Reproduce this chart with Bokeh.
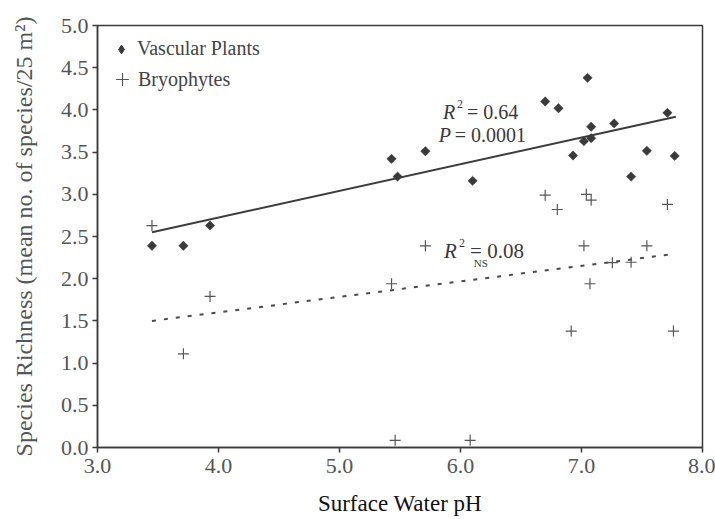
import numpy as np
from bokeh.plotting import figure
from bokeh.models import (Range1d, FixedTicker, PrintfTickFormatter, Legend, LegendItem,
                          Label, ColumnDataSource)
from bokeh.embed import file_html
from bokeh.resources import INLINE

# ---- data ----
ph_vascular = [3.45, 3.71, 3.93, 5.43, 5.48, 5.71, 6.10, 6.70, 6.81, 6.93,
               7.05, 7.02, 7.08, 7.08, 7.27, 7.41, 7.54, 7.71, 7.77]
rich_vascular = [2.39, 2.39, 2.63, 3.42, 3.21, 3.51, 3.16, 4.10, 4.02, 3.46,
                 4.38, 3.63, 3.80, 3.665, 3.84, 3.21, 3.515, 3.965, 3.455]

ph_bryo = [3.45, 3.71, 3.93, 5.43, 5.46, 5.71, 6.08, 6.70, 6.80, 6.915,
           7.02, 7.04, 7.08, 7.07, 7.255, 7.41, 7.54, 7.71, 7.76]
rich_bryo = [2.63, 1.11, 1.79, 1.94, 0.085, 2.39, 0.085, 2.99, 2.82, 1.38,
             2.39, 3.00, 2.93, 1.94, 2.19, 2.195, 2.39, 2.88, 1.38]

fit_vascular_x = [3.45, 7.78]
fit_vascular_y = [2.55, 3.92]
fit_bryo_x = [3.45, 7.75]
fit_bryo_y = [1.50, 2.29]

x_ticks = [3.0, 4.0, 5.0, 6.0, 7.0, 8.0]
y_ticks = [0.0, 0.5, 1.0, 1.5, 2.0, 2.5, 3.0, 3.5, 4.0, 4.5, 5.0]

FONT = "Liberation Serif"
AX = "#3a3a3a"

p = figure(width=715, height=519, output_backend="svg", toolbar_location=None,
           x_range=Range1d(3, 8), y_range=Range1d(0, 5),
           min_border_left=97, min_border_right=13, min_border_top=25,
           min_border_bottom=72,
           x_axis_label="Surface Water pH",
           y_axis_label="Species Richness (mean no. of species/25 m\u00b2)")

p.xgrid.visible = False
p.ygrid.visible = False
p.outline_line_color = AX
p.outline_line_width = 1.5
p.background_fill_color = "white"
p.border_fill_color = "white"

for ax in (p.xaxis[0], p.yaxis[0]):
    ax.axis_line_color = AX
    ax.axis_line_width = 1.5
    ax.major_tick_line_color = AX
    ax.major_tick_line_width = 1.5
    ax.major_tick_out = 5
    ax.major_tick_in = 0
    ax.minor_tick_out = 0
    ax.minor_tick_in = 0
    ax.major_label_text_font = FONT
    ax.major_label_text_font_size = "22px"
    ax.major_label_text_color = "#555555"
    ax.axis_label_text_font = FONT
    ax.axis_label_text_font_style = "normal"
    ax.formatter = PrintfTickFormatter(format="%.1f")

p.xaxis[0].ticker = FixedTicker(ticks=x_ticks)
p.yaxis[0].ticker = FixedTicker(ticks=y_ticks)
p.xaxis[0].major_label_standoff = 6
p.xaxis[0].axis_label_text_font_size = "23px"
p.xaxis[0].axis_label_text_color = "#111111"
p.xaxis[0].axis_label_standoff = 15
p.yaxis[0].major_label_standoff = 4
p.yaxis[0].axis_label_text_font_size = "24px"
p.yaxis[0].axis_label_text_color = "#555555"
p.yaxis[0].axis_label_standoff = 21

# regression lines
p.line(fit_vascular_x, fit_vascular_y, line_color="#3c3c3c", line_width=2)
p.line(fit_bryo_x, fit_bryo_y, line_color="#4a4a4a", line_width=2, line_dash="4 8")

# points
src_v = ColumnDataSource(dict(x=ph_vascular, y=rich_vascular))
r_v = p.scatter("x", "y", source=src_v, marker="square", angle=np.pi / 4,
                size=6.6, fill_color="#3a3a3a", line_color="#3a3a3a", line_width=0.5)
r_b = p.scatter(ph_bryo, rich_bryo, marker="cross", size=11,
                line_color="#555555", line_width=1.2)
# legend key for the diamond symbol: hidden renderer used only by the legend
r_v_key = p.scatter("x", "y", source=src_v, marker="diamond",
                    fill_color="#3a3a3a", line_color="#3a3a3a", line_width=1.0,
                    visible=False)

# legends
leg1 = Legend(items=[LegendItem(label="Vascular Plants", renderers=[r_v_key])],
              location=(13, 387), margin=0, padding=0, spacing=0,
              glyph_width=22, glyph_height=22, label_standoff=5,
              label_text_font=FONT, label_text_font_size="20px",
              label_text_color="#444444", border_line_color=None,
              background_fill_alpha=0, inactive_fill_alpha=0)
leg2 = Legend(items=[LegendItem(label="Bryophytes", renderers=[r_b])],
              location=(9, 352), margin=0, padding=0, spacing=0,
              glyph_width=32, glyph_height=32, label_standoff=-4,
              label_text_font=FONT, label_text_font_size="20px",
              label_text_color="#444444", border_line_color=None,
              background_fill_alpha=0)
p.add_layout(leg1, "center")
p.add_layout(leg2, "center")

# annotations
def lab(x, y, text, dx=0, dy=0, size="20px", style="normal"):
    p.add_layout(Label(x=x, y=y, x_offset=dx, y_offset=dy, text=text,
                       text_font=FONT, text_font_size=size,
                       text_font_style=style, text_color="#3a3a3a",
                       text_baseline="alphabetic"))

lab(5.856, 3.97, "R", style="italic")
lab(5.856, 3.97, "2", dx=14, dy=8, size="12px")
lab(5.856, 3.97, "= 0.64", dx=24)
lab(5.82, 3.70, "P", style="italic")
lab(5.82, 3.70, "= 0.0001", dx=16)
lab(5.864, 2.33, "R", style="italic", size="21px")
lab(5.864, 2.33, "2", dx=15, dy=8, size="12px")
lab(5.864, 2.33, "= 0.08", dx=26, size="21px")
lab(6.11, 2.19, "NS", size="11px")

open("out.html", "w").write(file_html(p, INLINE))
